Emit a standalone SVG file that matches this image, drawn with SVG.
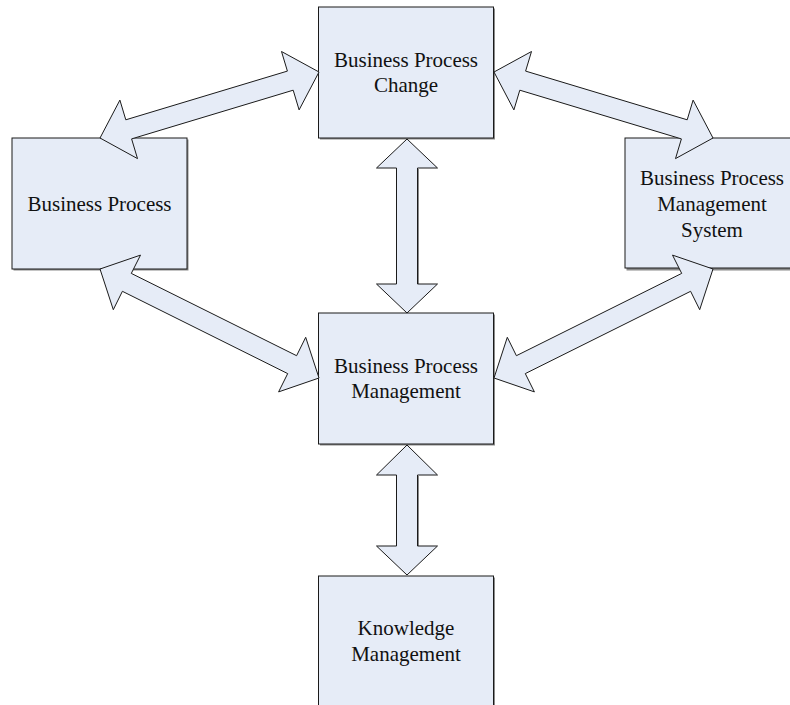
<svg xmlns="http://www.w3.org/2000/svg" width="790" height="705" viewBox="0 0 790 705">
<style>
.box{fill:#E6ECF7;stroke:#1a1a1a;stroke-width:1}
.shadow{fill:#8a8a8a}
.arrow{fill:#E6ECF7;stroke:#1a1a1a;stroke-width:1;stroke-linejoin:miter}
.ashadow{fill:none;stroke:#8a8a8a;stroke-width:1}
text{font-family:"Liberation Serif","Times New Roman",serif;font-size:21px;fill:#111;text-anchor:middle}
</style>
<rect width="790" height="705" fill="#ffffff"/>
<g id="node-bpc">
<rect class="shadow" x="320" y="8.5" width="175" height="131"/>
<rect class="box" x="318.5" y="7" width="175" height="131"/>
<text x="406" y="67">Business Process</text>
<text x="406" y="92">Change</text>
</g>
<g id="node-bp">
<rect class="shadow" x="13.5" y="139.5" width="175" height="131"/>
<rect class="box" x="12" y="138" width="175" height="131"/>
<text x="99.5" y="211">Business Process</text>
</g>
<g id="node-bpms">
<rect class="shadow" x="626.5" y="139.5" width="175" height="131"/>
<rect class="box" x="625" y="138" width="175" height="130"/>
<text x="712" y="185">Business Process</text>
<text x="712" y="211">Management</text>
<text x="712" y="237">System</text>
</g>
<g id="node-bpm">
<rect class="shadow" x="320" y="314.5" width="175" height="131"/>
<rect class="box" x="318.5" y="313" width="175" height="131"/>
<text x="406" y="373">Business Process</text>
<text x="406" y="398">Management</text>
</g>
<g id="node-km">
<rect class="shadow" x="320" y="577.5" width="175" height="131"/>
<rect class="box" x="318.5" y="576" width="175" height="131"/>
<text x="406" y="635">Knowledge</text>
<text x="406" y="661">Management</text>
</g>
<g id="connectors">
<polygon class="arrow" points="100,138 137.5,158.6 131.6,138.9 293.2,90.2 299.1,109.9 319,72 281.5,51.5 287.4,71.1 125.8,119.8 119.9,100.1"/>
<polygon class="arrow" points="713,138 675.5,158.6 681.4,138.9 519.8,90.2 513.9,109.9 494,72 531.5,51.5 525.6,71.1 687.2,119.8 693.1,100.1"/>
<polygon class="arrow" points="100,269 113.3,309.7 122.4,291.3 287.7,373.6 278.6,391.9 319,378 305.7,337.3 296.6,355.7 131.3,273.4 140.5,255.1"/>
<polygon class="arrow" points="713,269 699.7,309.7 690.6,291.3 525.3,373.6 534.4,391.9 494,378 507.3,337.3 516.4,355.7 681.7,273.4 672.5,255.1"/>
<polyline class="ashadow" points="418.5,169 418.5,284"/>
<polygon class="arrow" points="407,139 437.5,168 417.5,168 417.5,284 437.5,284 407,313 376.5,284 396.5,284 396.5,168 376.5,168"/>
<polyline class="ashadow" points="418.5,476 418.5,546"/>
<polygon class="arrow" points="407,445 437.5,475 417.5,475 417.5,546 437.5,546 407,575 376.5,546 396.5,546 396.5,475 376.5,475"/>
</g>
</svg>
